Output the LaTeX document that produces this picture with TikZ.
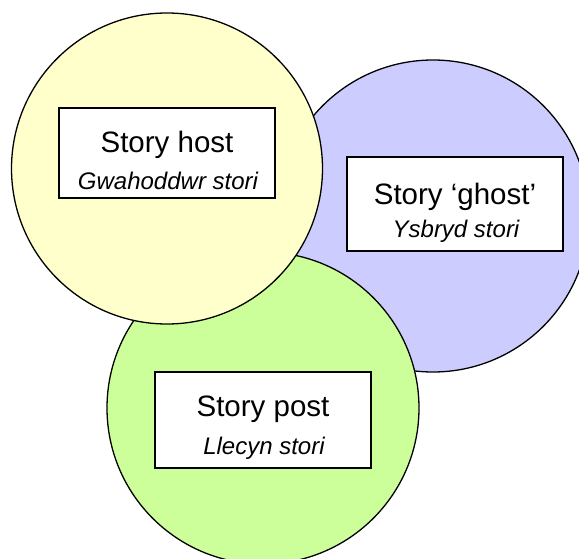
\documentclass[tikz,border=0pt]{standalone}
\usepackage{fontspec}
\setmainfont{Liberation Sans}
\definecolor{hostfill}{HTML}{FFFFCC}
\definecolor{ghostfill}{HTML}{CCCCFF}
\definecolor{postfill}{HTML}{CCFF99}
\tikzset{
  realm/.style={circle, draw=black, line width=1.3pt, minimum size=312pt, inner sep=0pt, outer sep=0pt},
  labelbox/.style={rectangle, draw=black, fill=white, line width=1.4pt, minimum width=216pt, inner sep=0pt},
  english/.style={anchor=base, inner sep=0pt, font=\fontsize{29.5}{34}\selectfont},
  welsh/.style={anchor=base, inner sep=0pt, font=\fontsize{24}{28}\selectfont\itshape}
}
\begin{document}
\begin{tikzpicture}[x=1pt, y=-1pt]
  \useasboundingbox (0,0) rectangle (579,559);
  \clip (0,0) rectangle (579,559);
  % the three overlapping circles, back to front
  \node[realm, fill=ghostfill] (ghost) at (433,216) {};
  \node[realm, fill=postfill]  (post)  at (263,408) {};
  \node[realm, fill=hostfill, minimum size=311pt] (host) at (167,168.5) {};
  % label boxes
  \node[labelbox, minimum height=90pt] (hostbox)  at (167,153) {};
  \node[labelbox, minimum height=94pt] (ghostbox) at (455,204) {};
  \node[labelbox, minimum height=96pt] (postbox)  at (263,420) {};
  % texts
  \node[english] (hosten)  at (167,153) {Story host};
  \node[welsh]   (hostcy)  at (168,190) {Gwahoddwr stori};
  \node[english] (ghosten) at (455,205) {Story ‘ghost’};
  \node[welsh]   (ghostcy) at (456,237) {Ysbryd stori};
  \node[english] (posten)  at (263,416) {Story post};
  \node[welsh]   (postcy)  at (264,454) {Llecyn stori};
\end{tikzpicture}
\end{document}
